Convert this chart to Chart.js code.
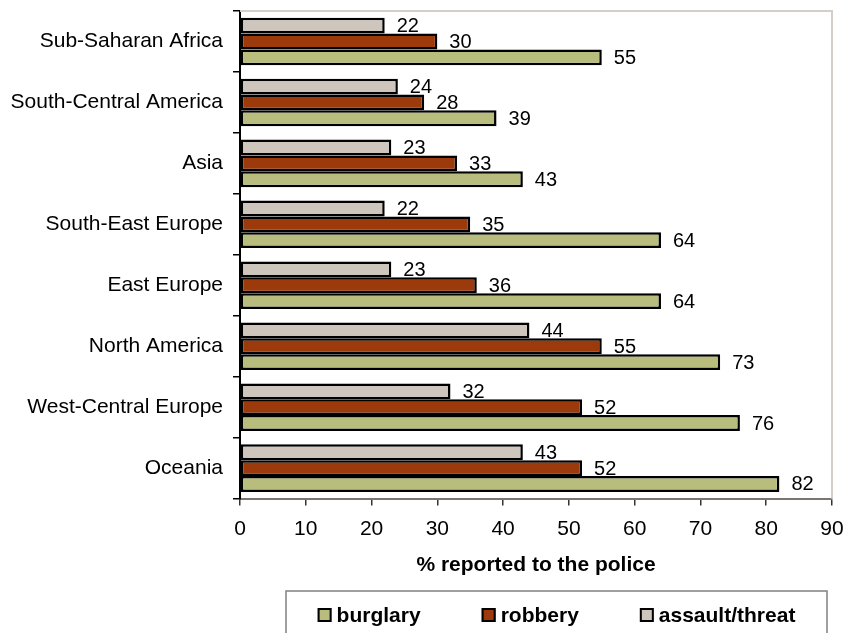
<!DOCTYPE html>
<html><head><meta charset="utf-8">
<script src="https://cdn.jsdelivr.net/npm/chart.js@4.4.1/dist/chart.umd.min.js"></script>
<style>html,body{margin:0;padding:0;background:#fff;} #c{display:block;}</style>
</head><body>
<canvas id="c" width="845" height="633"></canvas>
<script>
const categories = ['Sub-Saharan Africa','South-Central America','Asia','South-East Europe','East Europe','North America','West-Central Europe','Oceania'];
const assaultValues = [22,24,23,22,23,44,32,43];
const robberyValues = [30,28,33,35,36,55,52,52];
const burglaryValues = [55,39,43,64,64,73,76,82];
const xTickValues = [0,10,20,30,40,50,60,70,80,90];
const seriesNames = ['assault/threat','robbery','burglary'];
const seriesColors = ['#CEC6BC','#9C3A0C','#B8BC7C'];
const axisTitle = '% reported to the police';
const FONT = '"Liberation Sans", Arial, Helvetica, sans-serif';

const labelPlugin = {
  id: 'valueLabels',
  afterDatasetsDraw(chart) {
    const ctx = chart.ctx;
    ctx.save();
    ctx.font = '20px ' + FONT;
    ctx.fillStyle = '#000';
    ctx.textAlign = 'left';
    ctx.textBaseline = 'middle';
    chart.data.datasets.forEach((ds, i) => {
      const meta = chart.getDatasetMeta(i);
      meta.data.forEach((el, j) => {
        ctx.fillText(String(ds.data[j]), el.x + 12, el.y + 1);
      });
    });
    ctx.restore();
  }
};

const framePlugin = {
  id: 'frame',
  beforeDatasetsDraw(chart) {
    const {ctx, chartArea: a} = chart;
    ctx.save();
    ctx.strokeStyle = '#D6CEC6';
    ctx.lineWidth = 2;
    ctx.beginPath();
    ctx.moveTo(a.left, a.top);
    ctx.lineTo(a.right, a.top);
    ctx.lineTo(a.right, a.bottom);
    ctx.stroke();
    ctx.restore();
  }
};

const legendPlugin = {
  id: 'boxLegend',
  afterDraw(chart) {
    const ctx = chart.ctx;
    const a = chart.chartArea;
    const xs = chart.scales.x;
    const left = a.left + 46, right = a.right - 5;
    const top = xs.bottom;
    ctx.save();
    ctx.strokeStyle = '#808080';
    ctx.lineWidth = 1.5;
    ctx.strokeRect(left, top, right - left, 80);
    ctx.font = 'bold 21px ' + FONT;
    const items = chart.data.datasets.map((ds, i) => ({label: ds.label, color: ds.backgroundColor})).reverse();
    const box = 14, gapText = 5, gapItem = 61;
    let total = 0;
    items.forEach((it, k) => { it.w = ctx.measureText(it.label).width; total += box + gapText + it.w + (k ? gapItem : 0); });
    let x = (left + right) / 2 - total / 2;
    const cy = top + 24;
    ctx.textAlign = 'left';
    ctx.textBaseline = 'middle';
    items.forEach(it => {
      ctx.fillStyle = it.color;
      ctx.fillRect(x, cy - box / 2, box, box);
      ctx.strokeStyle = '#000';
      ctx.lineWidth = 2;
      ctx.strokeRect(x + 1, cy - box / 2 + 1, box - 2, box - 2);
      ctx.fillStyle = '#000';
      ctx.fillText(it.label, x + box + gapText, cy + 1);
      x += box + gapText + it.w + gapItem;
    });
    ctx.restore();
  }
};

const datasets = [assaultValues, robberyValues, burglaryValues].map((vals, i) => ({
  label: seriesNames[i],
  data: vals,
  backgroundColor: seriesColors[i],
  borderColor: '#000',
  borderWidth: 2.5,
  borderSkipped: false,
  categoryPercentage: 0.78,
  barPercentage: 1.0
}));

new Chart(document.getElementById('c'), {
  type: 'bar',
  data: { labels: categories, datasets },
  options: {
    indexAxis: 'y',
    responsive: false,
    animation: false,
    layout: { padding: { top: 11, right: 13, bottom: 42, left: 0 } },
    plugins: { legend: { display: false }, tooltip: { enabled: false } },
    scales: {
      x: {
        min: 0, max: 90,
        afterBuildTicks(scale) { scale.ticks = xTickValues.map(v => ({ value: v })); },
        afterFit(scale) { scale.paddingLeft = 0; scale.paddingRight = 0; },
        grid: { drawOnChartArea: false, tickLength: 7, color: '#333', lineWidth: 1.5 },
        border: { color: '#7A756E', width: 2 },
        ticks: { color: '#000', padding: 11, font: { family: FONT, size: 21 } },
        title: { display: true, text: axisTitle, color: '#000', padding: { top: 0, bottom: 13 }, font: { family: FONT, size: 21, weight: 'bold' } }
      },
      y: {
        afterFit(scale) { scale.width = 240; scale.paddingTop = 0; scale.paddingBottom = 0; },
        grid: { drawOnChartArea: false, tickLength: 7, color: '#000', lineWidth: 1.5, offset: true },
        border: { color: '#000', width: 2 },
        ticks: { color: '#000', padding: 10, font: { family: FONT, size: 21 } }
      }
    }
  },
  plugins: [framePlugin, labelPlugin, legendPlugin]
});
</script>
</body></html>
